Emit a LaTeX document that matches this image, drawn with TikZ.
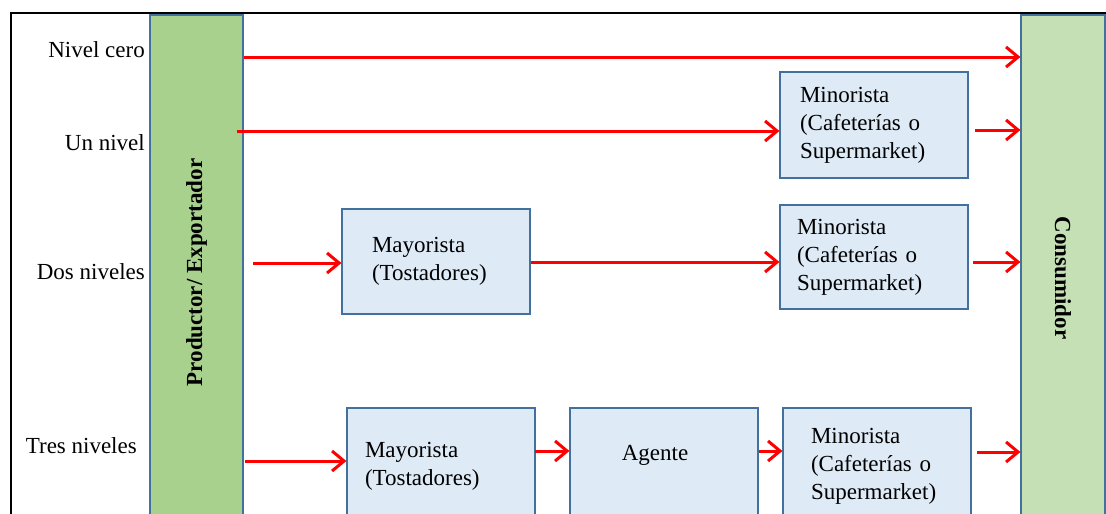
\documentclass[tikz,border=0pt]{standalone}
\usepackage{fontspec}
\setmainfont{Liberation Serif}
\usetikzlibrary{arrows.meta}

\definecolor{prodGreen}{HTML}{A9D18E}
\definecolor{consGreen}{HTML}{C5E0B4}
\definecolor{boxBlue}{HTML}{DEEAF6}
\definecolor{boxEdge}{HTML}{41719C}

\begin{document}
\begin{tikzpicture}
[x=1pt,y=-1pt,
  barDecorate/.style={draw=boxEdge,line width=1.2pt,inner sep=0pt,
    minimum width=515pt,font=\fontsize{23}{28}\selectfont\bfseries},%
  boxDecorate/.style={draw=boxEdge,line width=1.2pt,fill=boxBlue,
    minimum width=188pt,minimum height=106pt,align=left,
    font=\fontsize{23}{28}\selectfont},%
  levelDecorate/.style={anchor=east,inner sep=0pt,font=\fontsize{23}{28}\selectfont},%
  arrowDecorate/.style={draw=red,line width=3pt,-{Straight Barb[length=12pt,width=20pt]}}]
\clip (0,0) rectangle (1106,514);
%% frame
\draw[line width=2pt] (1106,13) -- (11,13) -- (11,514);
%% bars
\node (prod) at (196.5,272.5) [barDecorate,fill=prodGreen,rotate=90,minimum height=93pt] {Productor/ Exportador};
\node (cons) at (1063,278) [barDecorate,fill=consGreen,rotate=-90,minimum height=84pt,minimum width=526pt] {Consumidor};
%% level labels
\foreach \labname/\y/\x/\txt in {
  cero/50/145/Nivel cero, uno/143/145/Un nivel,
  dos/272/145/Dos niveles, tres/446/137/Tres niveles}
{
  \node (\labname) at (\x,\y) [levelDecorate] {\txt};
}
%% boxes
\node (mino1) at (874,125) [boxDecorate,inner xsep=20pt,text width=148pt] {Minorista\\(Cafeterías o\\Supermarket)};
\node (mayo2) at (436,261.5) [boxDecorate,inner xsep=30pt,text width=128pt,minimum height=105pt] {Mayorista\\(Tostadores)};
\node (mino2) at (874,257) [boxDecorate,inner xsep=17pt,text width=154pt,minimum height=104pt] {Minorista\\(Cafeterías o\\Supermarket)};
\node (mayo3) at (441,466) [boxDecorate,inner xsep=18pt,text width=152pt,minimum height=116pt] {\raisebox{3pt}{Mayorista}\\\raisebox{3pt}{(Tostadores)}};
\node (agen3) at (664,466) [boxDecorate,align=center,minimum height=116pt] {\raisebox{26pt}{Agente}\hspace*{18pt}};
\node (mino3) at (877,466) [boxDecorate,inner xsep=28pt,text width=132pt,minimum height=116pt] {Minorista\\(Cafeterías o\\Supermarket)};
%% free ends of the arrows
\coordinate (s0) at (244,57);
\coordinate (s1) at (237,131);
\coordinate (t1) at (975,130);
\coordinate (s2) at (253,263);
\coordinate (t2) at (973,262);
\coordinate (s3) at (245,461);
\coordinate (m3) at (535,451);
\coordinate (t3) at (977,452);
%% arrows
\draw[arrowDecorate] (s0) -- (s0 -| cons.south);
\draw[arrowDecorate] (s1) -- (s1 -| mino1.west);
\draw[arrowDecorate] (t1) -- (t1 -| cons.south);
\draw[arrowDecorate] (s2) -- (s2 -| mayo2.west);
\draw[arrowDecorate] (mayo2.east |- t2) -- (t2 -| mino2.west);
\draw[arrowDecorate] (t2) -- (t2 -| cons.south);
\draw[arrowDecorate] (s3) -- (s3 -| mayo3.west);
\draw[arrowDecorate] (m3) -- (m3 -| agen3.west);
\draw[arrowDecorate] (m3 -| agen3.east) -- (m3 -| mino3.west);
\draw[arrowDecorate] (t3) -- (t3 -| cons.south);
\end{tikzpicture}
\end{document}
